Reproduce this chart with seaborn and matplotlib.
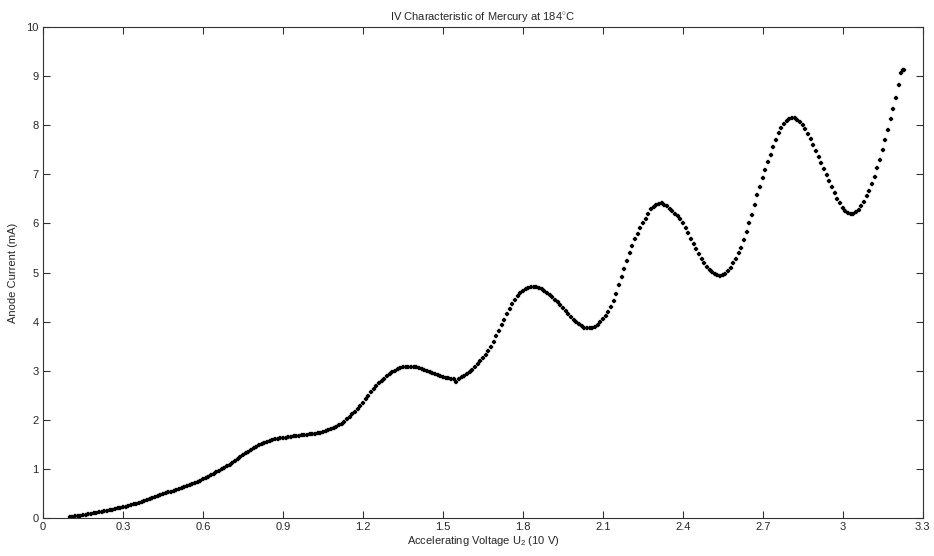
import numpy as np
import pandas as pd
import matplotlib
matplotlib.use("Agg")
import matplotlib.pyplot as plt
import seaborn as sns

voltage = [
    0.10, 0.11, 0.12, 0.13, 0.14, 0.15, 0.16, 0.17, 0.18, 0.19,
    0.20, 0.21, 0.22, 0.23, 0.24, 0.25, 0.26, 0.27, 0.28, 0.29,
    0.30, 0.31, 0.32, 0.33, 0.34, 0.35, 0.36, 0.37, 0.38, 0.39,
    0.40, 0.41, 0.42, 0.43, 0.44, 0.45, 0.46, 0.47, 0.48, 0.49,
    0.50, 0.51, 0.52, 0.53, 0.54, 0.55, 0.56, 0.57, 0.58, 0.59,
    0.60, 0.61, 0.62, 0.63, 0.64, 0.65, 0.66, 0.67, 0.68, 0.69,
    0.70, 0.71, 0.72, 0.73, 0.74, 0.75, 0.76, 0.77, 0.78, 0.79,
    0.80, 0.81, 0.82, 0.83, 0.84, 0.85, 0.86, 0.87, 0.88, 0.89,
    0.90, 0.91, 0.92, 0.93, 0.94, 0.95, 0.96, 0.97, 0.98, 0.99,
    1.00, 1.01, 1.02, 1.03, 1.04, 1.05, 1.06, 1.07, 1.08, 1.09,
    1.10, 1.11, 1.12, 1.13, 1.14, 1.15, 1.16, 1.17, 1.18, 1.19,
    1.20, 1.21, 1.22, 1.23, 1.24, 1.25, 1.26, 1.27, 1.28, 1.29,
    1.30, 1.31, 1.32, 1.33, 1.34, 1.35, 1.36, 1.37, 1.38, 1.39,
    1.40, 1.41, 1.42, 1.43, 1.44, 1.45, 1.46, 1.47, 1.48, 1.49,
    1.50, 1.51, 1.52, 1.53, 1.54, 1.55, 1.56, 1.57, 1.58, 1.59,
    1.60, 1.61, 1.62, 1.63, 1.64, 1.65, 1.66, 1.67, 1.68, 1.69,
    1.70, 1.71, 1.72, 1.73, 1.74, 1.75, 1.76, 1.77, 1.78, 1.79,
    1.80, 1.81, 1.82, 1.83, 1.84, 1.85, 1.86, 1.87, 1.88, 1.89,
    1.90, 1.91, 1.92, 1.93, 1.94, 1.95, 1.96, 1.97, 1.98, 1.99,
    2.00, 2.01, 2.02, 2.03, 2.04, 2.05, 2.06, 2.07, 2.08, 2.09,
    2.10, 2.11, 2.12, 2.13, 2.14, 2.15, 2.16, 2.17, 2.18, 2.19,
    2.20, 2.21, 2.22, 2.23, 2.24, 2.25, 2.26, 2.27, 2.28, 2.29,
    2.30, 2.31, 2.32, 2.33, 2.34, 2.35, 2.36, 2.37, 2.38, 2.39,
    2.40, 2.41, 2.42, 2.43, 2.44, 2.45, 2.46, 2.47, 2.48, 2.49,
    2.50, 2.51, 2.52, 2.53, 2.54, 2.55, 2.56, 2.57, 2.58, 2.59,
    2.60, 2.61, 2.62, 2.63, 2.64, 2.65, 2.66, 2.67, 2.68, 2.69,
    2.70, 2.71, 2.72, 2.73, 2.74, 2.75, 2.76, 2.77, 2.78, 2.79,
    2.80, 2.81, 2.82, 2.83, 2.84, 2.85, 2.86, 2.87, 2.88, 2.89,
    2.90, 2.91, 2.92, 2.93, 2.94, 2.95, 2.96, 2.97, 2.98, 2.99,
    3.00, 3.01, 3.02, 3.03, 3.04, 3.05, 3.06, 3.07, 3.08, 3.09,
    3.10, 3.11, 3.12, 3.13, 3.14, 3.15, 3.16, 3.17, 3.18, 3.19,
    3.20, 3.21, 3.22, 3.225, 3.23,
]

current = [
    0.02, 0.03, 0.04, 0.04, 0.05, 0.06, 0.07, 0.08, 0.09, 0.10,
    0.11, 0.12, 0.13, 0.14, 0.15, 0.16, 0.17, 0.18, 0.20, 0.21,
    0.22, 0.23, 0.25, 0.26, 0.28, 0.29, 0.31, 0.32, 0.34, 0.36,
    0.38, 0.40, 0.42, 0.44, 0.46, 0.48, 0.50, 0.52, 0.54, 0.56,
    0.58, 0.60, 0.62, 0.64, 0.66, 0.68, 0.70, 0.72, 0.74, 0.76,
    0.79, 0.81, 0.84, 0.87, 0.90, 0.93, 0.96, 0.99, 1.02, 1.05,
    1.09, 1.12, 1.16, 1.20, 1.24, 1.28, 1.32, 1.35, 1.39, 1.42,
    1.45, 1.48, 1.50, 1.52, 1.54, 1.56, 1.58, 1.60, 1.61, 1.62,
    1.63, 1.64, 1.65, 1.66, 1.67, 1.67, 1.68, 1.69, 1.70, 1.70,
    1.71, 1.71, 1.72, 1.73, 1.74, 1.75, 1.77, 1.79, 1.81, 1.83,
    1.86, 1.89, 1.92, 1.96, 2.01, 2.06, 2.11, 2.16, 2.22, 2.28,
    2.35, 2.42, 2.49, 2.56, 2.62, 2.68, 2.74, 2.79, 2.84, 2.89,
    2.93, 2.97, 3.00, 3.03, 3.05, 3.07, 3.08, 3.08, 3.08, 3.08,
    3.07, 3.06, 3.04, 3.02, 3.00, 2.98, 2.96, 2.93, 2.91, 2.89,
    2.88, 2.86, 2.85, 2.84, 2.83, 2.78, 2.84, 2.87, 2.90, 2.94,
    2.98, 3.02, 3.07, 3.13, 3.19, 3.25, 3.32, 3.40, 3.49, 3.59,
    3.70, 3.81, 3.93, 4.04, 4.15, 4.26, 4.36, 4.45, 4.52, 4.58,
    4.63, 4.66, 4.69, 4.70, 4.71, 4.71, 4.69, 4.67, 4.63, 4.59,
    4.55, 4.50, 4.45, 4.39, 4.33, 4.27, 4.21, 4.15, 4.09, 4.04,
    3.99, 3.95, 3.91, 3.88, 3.86, 3.86, 3.87, 3.90, 3.94, 3.99,
    4.05, 4.12, 4.20, 4.30, 4.42, 4.57, 4.74, 4.91, 5.08, 5.24,
    5.40, 5.54, 5.68, 5.79, 5.90, 6.00, 6.10, 6.20, 6.29, 6.34,
    6.38, 6.40, 6.41, 6.38, 6.35, 6.30, 6.25, 6.20, 6.15, 6.08,
    6.00, 5.90, 5.80, 5.69, 5.58, 5.48, 5.38, 5.28, 5.19, 5.12,
    5.06, 5.01, 4.97, 4.94, 4.93, 4.94, 4.97, 5.03, 5.10, 5.19,
    5.28, 5.39, 5.50, 5.66, 5.82, 6.00, 6.18, 6.38, 6.58, 6.75,
    6.92, 7.09, 7.25, 7.40, 7.55, 7.70, 7.85, 7.94, 8.02, 8.08,
    8.12, 8.14, 8.14, 8.11, 8.06, 8.00, 7.93, 7.83, 7.72, 7.60,
    7.48, 7.36, 7.24, 7.11, 6.98, 6.86, 6.74, 6.62, 6.50, 6.41,
    6.32, 6.26, 6.22, 6.20, 6.20, 6.23, 6.28, 6.35, 6.44, 6.55,
    6.66, 6.80, 6.94, 7.12, 7.30, 7.50, 7.70, 7.91, 8.12, 8.33,
    8.55, 8.82, 9.07, 9.12, 9.12,
]

x_ticks = [0, 0.3, 0.6, 0.9, 1.2, 1.5, 1.8, 2.1, 2.4, 2.7, 3.0, 3.3]
x_tick_labels = ["0", "0.3", "0.6", "0.9", "1.2", "1.5", "1.8", "2.1", "2.4", "2.7", "3", "3.3"]
y_ticks = list(range(0, 11))

df = pd.DataFrame({"U2": voltage, "I": current})

sns.set_style("ticks")
plt.rcParams['font.family'] = ['Liberation Sans', 'DejaVu Sans']
plt.rcParams['mathtext.fontset'] = 'custom'
plt.rcParams['mathtext.rm'] = 'Liberation Sans'
plt.rcParams['mathtext.it'] = 'Liberation Sans'

fig = plt.figure(figsize=(9.34, 5.56), dpi=100)
ax = fig.add_axes([0.046, 0.0683, 0.942, 0.8831])

sns.scatterplot(data=df, x="U2", y="I", ax=ax, marker="P", s=12,
                color="black", edgecolor="black", linewidth=0.2, legend=False)

ax.set_xlim(0, 3.3)
ax.set_ylim(0, 10)
ax.set_xticks(x_ticks)
ax.set_xticklabels(x_tick_labels)
ax.set_yticks(y_ticks)
ax.tick_params(direction="in", top=True, right=True, labelsize=8, length=5,
               width=0.8, color="#333333", pad=3)
for s in ax.spines.values():
    s.set_visible(True)
    s.set_color("#333333")
    s.set_linewidth(0.8)

ax.set_title("IV Characteristic of Mercury at 184$^{\\circ}$C", fontsize=8, pad=5)
ax.set_xlabel("Accelerating Voltage U$_2$ (10 V)", fontsize=8, labelpad=1)
ax.set_ylabel("Anode Current (mA)", fontsize=8, labelpad=6)

fig.savefig("out.png", dpi=100)
